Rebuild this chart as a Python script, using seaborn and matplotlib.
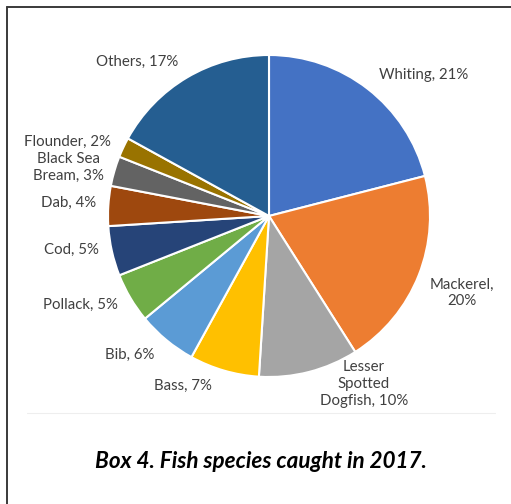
import matplotlib
matplotlib.use("Agg")
import matplotlib.pyplot as plt
from matplotlib.lines import Line2D
import seaborn as sns

# Catch share by species, 2017 (percent)
species = ["Whiting", "Mackerel", "Lesser\nSpotted\nDogfish", "Bass", "Bib",
           "Pollack", "Cod", "Dab", "Black Sea\nBream", "Flounder", "Others"]
shares = [21, 20, 10, 7, 6, 5, 5, 4, 3, 2, 17]
colors = ["#4472C4", "#ED7D31", "#A5A5A5", "#FFC000", "#5B9BD5", "#70AD47",
          "#264478", "#9E480E", "#636363", "#997300", "#255E91"]
title = "Box 4. Fish species caught in 2017."

# Separator between name and value in each label
label_sep = [" ", "\n", " ", " ", " ", " ", " ", " ", " ", " ", " "]
# Label anchors in units of the pie radius (x right, y up from the centre)
label_xy = [(0.963, 0.877), (1.199, -0.478), (0.590, -1.043), (-0.534, -1.056),
            (-0.863, -0.863), (-1.174, -0.553), (-1.224, -0.211), (-1.248, 0.081),
            (-1.248, 0.304), (-1.255, 0.460), (-0.820, 0.957)]

sns.set_theme(style="white")
plt.rcParams["font.family"] = ["Lato", "DejaVu Sans"]

W, H, DPI = 511, 504, 100
fig = plt.figure(figsize=(W / DPI, H / DPI), dpi=DPI)
fig.patch.set_facecolor("white")

# Pie centre and radius in pixels; axes span the whole canvas
cx, cy, r = 269, 216, 161
ax = fig.add_axes([0, 0, 1, 1])

ax.pie(shares, colors=colors, startangle=90, counterclock=False, radius=1.0,
       wedgeprops=dict(edgecolor="white", linewidth=1.5))
ax.set_aspect("auto")
ax.set_xlim(-cx / r, (W - cx) / r)
ax.set_ylim(-(H - cy) / r, cy / r)
ax.axis("off")

for name, val, sep, (lx, ly) in zip(species, shares, label_sep, label_xy):
    ax.text(lx, ly, f"{name},{sep}{val}%", ha="center", va="center",
            fontsize=10.8, color="#404040", linespacing=1.25)

fig.text(261 / W, 1 - 462 / H, title, ha="center", va="center",
         fontsize=16.2, fontweight="bold", fontstyle="italic", color="black")

# Outer frame (top and left edges) and faint chart-area rule
fig.add_artist(Line2D([7 / W, 1], [1 - 6.5 / H, 1 - 6.5 / H], color="#3a3a3a", lw=1.4))
fig.add_artist(Line2D([7 / W, 7 / W], [0, 1 - 6.5 / H], color="#3a3a3a", lw=1.4))
fig.add_artist(Line2D([27 / W, 495 / W], [1 - 413 / H, 1 - 413 / H], color="#eeeeee", lw=0.8))

fig.savefig("out.png", dpi=DPI)
